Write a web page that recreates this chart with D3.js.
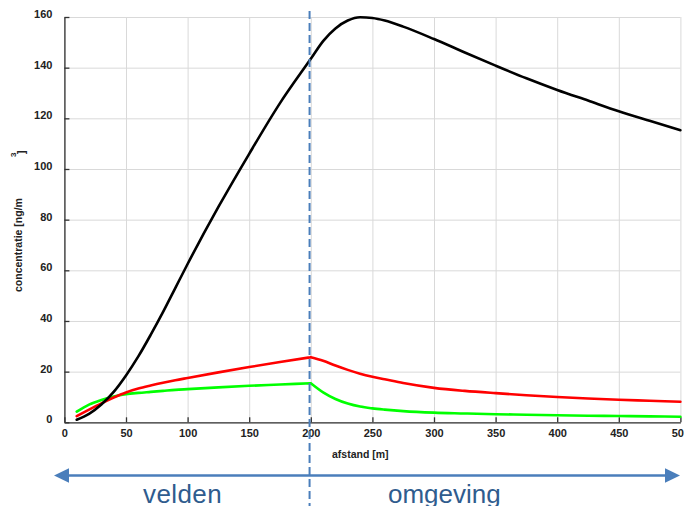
<!DOCTYPE html>
<html lang="nl">
<head>
  <meta charset="UTF-8">
  <title>Concentratie vs afstand</title>
  <style>
    body { margin: 0; background: #fff; }
    svg { display: block; font-family: "Liberation Sans", Arial, sans-serif; }
    .tick text { font-size: 11px; font-weight: bold; fill: #222; }
    .grid line { stroke: #d9d9d9; stroke-width: 1; }
    .grid .domain { display: none; }
    .axis .domain, .axis .tick line { stroke: #333; stroke-width: 1.3; }
    .series { fill: none; stroke-width: 2.6; stroke-linejoin: round; stroke-linecap: round; }
  </style>
</head>
<body>
  <div id="chart"></div>

  <script src="https://d3js.org/d3.v7.min.js"></script>
  <script>
    // distances [m]
    const afstand = [10, 20, 30, 40, 50, 60, 70, 80, 90, 100, 125, 150, 175, 200,
                     210, 220, 230, 240, 250, 260, 275, 300, 325, 350, 375, 400, 425, 450, 475, 500];
    // concentrations [ng/m3]
    const zwart = [1, 3.3, 7, 12, 18.5, 26, 34.5, 43.5, 53, 62.5, 85, 106, 126, 143.5,
                   150.5, 155.5, 158.6, 159.9, 159.6, 158.6, 156.2, 151.3, 146, 140.8, 135.8, 131.2, 127, 122.8, 119, 115.3];
    const rood  = [2.4, 5, 7.5, 9.8, 11.8, 13.3, 14.5, 15.6, 16.6, 17.5, 19.7, 21.8, 23.8, 25.7,
                   24.3, 22.4, 20.7, 19.2, 18, 17, 15.5, 13.6, 12.4, 11.5, 10.7, 10, 9.4, 8.9, 8.5, 8.1];
    const groen = [4.2, 7, 8.8, 10.2, 11.1, 11.6, 12, 12.4, 12.8, 13.1, 13.8, 14.4, 14.9, 15.4,
                   11.8, 9.2, 7.4, 6.2, 5.5, 5, 4.4, 3.8, 3.5, 3.2, 3, 2.8, 2.6, 2.5, 2.35, 2.2];

    const xTicks = [0, 50, 100, 150, 200, 250, 300, 350, 400, 450, 500];
    const yTicks = [0, 20, 40, 60, 80, 100, 120, 140, 160];
    const grens = 199;   // border field / surroundings

    const width = 684, height = 506;
    const margin = { top: 17, right: 3.6, bottom: 83.7, left: 64.4 };
    const w = width - margin.left - margin.right;
    const h = height - margin.top - margin.bottom;

    const svg = d3.select("#chart").append("svg")
      .attr("width", width)
      .attr("height", height);

    const g = svg.append("g")
      .attr("transform", `translate(${margin.left},${margin.top})`);

    const x = d3.scaleLinear().domain([0, 500]).range([0, w]);
    const y = d3.scaleLinear().domain([0, 160]).range([h, 0]);

    // grid
    g.append("g").attr("class", "grid")
      .call(d3.axisLeft(y).tickValues(yTicks).tickSize(-w).tickFormat(""));
    g.append("g").attr("class", "grid")
      .attr("transform", `translate(0,${h})`)
      .call(d3.axisBottom(x).tickValues(xTicks).tickSize(-h).tickFormat(""));

    // axes, ticks pointing inward
    const yAxis = g.append("g").attr("class", "axis")
      .call(d3.axisLeft(y).tickValues(yTicks).tickSize(-5).tickPadding(12).tickSizeOuter(0));
    yAxis.selectAll(".tick text").attr("dy", "0.05em");

    g.append("g").attr("class", "axis")
      .attr("transform", `translate(0,${h})`)
      .call(d3.axisBottom(x).tickValues(xTicks).tickSize(-5).tickPadding(7).tickSizeOuter(0));

    // series: smooth on both sides of the border, kink allowed at 200 m
    const knik = afstand.indexOf(200);
    const lijnGen = d3.line()
      .x(d => x(d[0]))
      .y(d => y(d[1]))
      .curve(d3.curveMonotoneX);
    const lijn = (vals, glad) => {
      const pts = afstand.map((a, i) => [a, vals[i]]);
      if (glad) return lijnGen(pts);
      return lijnGen(pts.slice(0, knik + 1)) + lijnGen(pts.slice(knik));
    };

    [[groen, "#00ff00", false], [rood, "#ff0000", false], [zwart, "#000000", true]].forEach(([vals, kleur, glad]) => {
      g.append("path")
        .attr("class", "series")
        .attr("stroke", kleur)
        .attr("d", lijn(vals, glad));
    });

    // dashed border line
    g.append("line")
      .attr("x1", x(grens)).attr("x2", x(grens))
      .attr("y1", -6).attr("y2", height - margin.top)
      .attr("stroke", "#4a7ebb")
      .attr("stroke-width", 2)
      .attr("stroke-dasharray", "8,4");

    // axis titles
    svg.append("text")
      .attr("x", 332).attr("y", 458)
      .style("font-size", "10.5px").style("font-weight", "bold").attr("fill", "#222")
      .text("afstand [m]");

    svg.append("text")
      .attr("transform", "translate(22,292) rotate(-90)")
      .style("font-size", "10.5px").style("font-weight", "bold").attr("fill", "#222")
      .text("concentratie [ng/m");
    svg.append("text")
      .attr("transform", "translate(16,157) rotate(-90)")
      .style("font-size", "8px").style("font-weight", "bold").attr("fill", "#222")
      .text("3");
    svg.append("text")
      .attr("transform", "translate(25,154) rotate(-90)")
      .style("font-size", "10.5px").style("font-weight", "bold").attr("fill", "#222")
      .text("]");

    // double arrow
    const ay = 475.5, ax1 = 54, ax2 = 680, head = 15, half = 7.3;
    svg.append("line")
      .attr("x1", ax1 + head - 1).attr("x2", ax2 - head + 1)
      .attr("y1", ay).attr("y2", ay)
      .attr("stroke", "#4a7ebb").attr("stroke-width", 2.6);
    svg.append("path")
      .attr("d", `M${ax1},${ay} L${ax1 + head},${ay - half} L${ax1 + head},${ay + half} Z`)
      .attr("fill", "#4a7ebb");
    svg.append("path")
      .attr("d", `M${ax2},${ay} L${ax2 - head},${ay - half} L${ax2 - head},${ay + half} Z`)
      .attr("fill", "#4a7ebb");

    svg.append("text")
      .attr("x", 143).attr("y", 503)
      .style("font-size", "26px").style("letter-spacing", "0.4px").attr("fill", "#2f5c8e")
      .text("velden");
    svg.append("text")
      .attr("x", 388).attr("y", 503)
      .style("font-size", "26px").attr("fill", "#2f5c8e")
      .text("omgeving");
  </script>
</body>
</html>
